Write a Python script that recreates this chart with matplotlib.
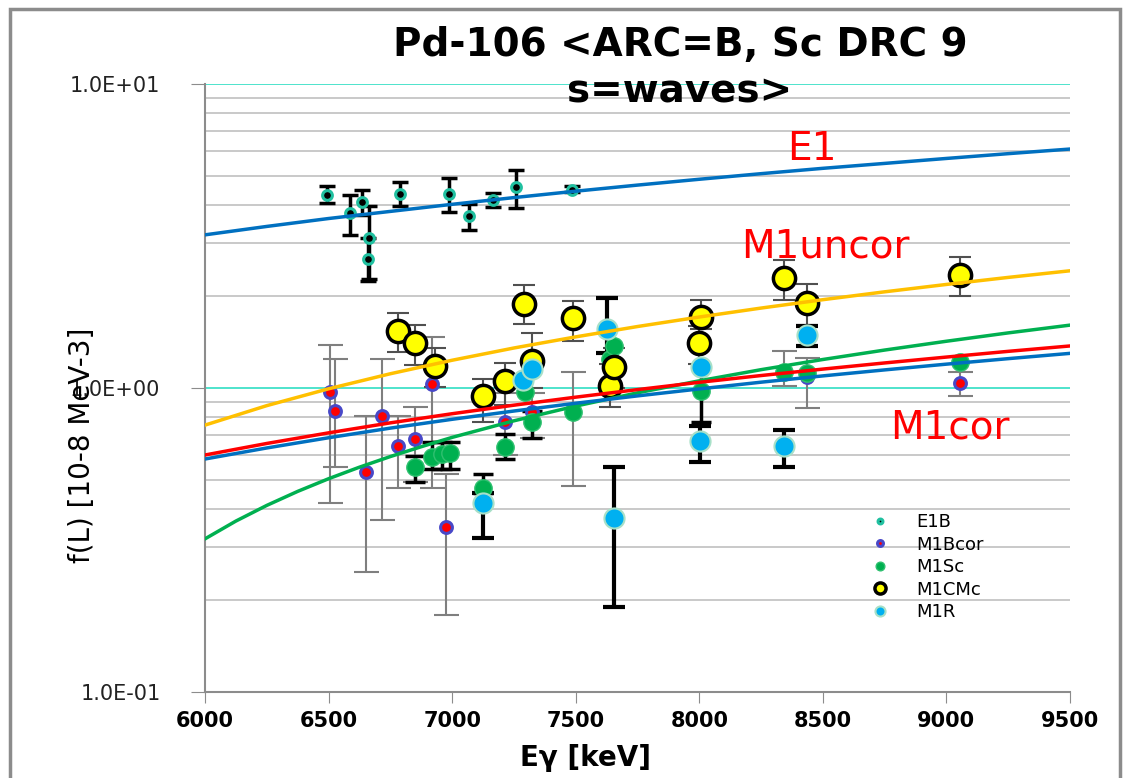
import numpy as np
import matplotlib
matplotlib.use("Agg")
import matplotlib.pyplot as plt
from matplotlib.patches import Rectangle
from matplotlib.ticker import FixedLocator, LogLocator, NullFormatter

# fitted strength functions, read every 250 keV
fit_e = [6000, 6250, 6500, 6750, 7000, 7250, 7500, 7750, 8000, 8250, 8500, 8750, 9000, 9250, 9500]
fit_e1 = [3.19, 3.40, 3.61, 3.81, 4.02, 4.23, 4.44, 4.65, 4.86, 5.07, 5.28, 5.48, 5.69, 5.90, 6.11]
fit_m1uncor = [0.755, 0.875, 0.994, 1.114, 1.234, 1.354, 1.473, 1.593, 1.712, 1.832, 1.952, 2.072,
               2.191, 2.311, 2.43]
fit_m1cor = [0.602, 0.657, 0.712, 0.768, 0.823, 0.878, 0.933, 0.988, 1.044, 1.099, 1.154, 1.209,
             1.264, 1.320, 1.375]
fit_m1blue = [0.584, 0.635, 0.686, 0.738, 0.789, 0.840, 0.891, 0.942, 0.993, 1.045, 1.096, 1.147,
              1.198, 1.249, 1.30]
# the M1Sc curve bends more at low energy, so it is read more densely there
fit_sc_e = [6000, 6125, 6250, 6375, 6500, 6625, 6750, 6875, 7000, 7250, 7500, 7750, 8000, 8250,
            8500, 8750, 9000, 9250, 9500]
fit_m1sc = [0.319, 0.365, 0.411, 0.457, 0.503, 0.549, 0.595, 0.641, 0.688, 0.780, 0.872, 0.964,
            1.056, 1.149, 1.241, 1.333, 1.425, 1.518, 1.61]

# E1B points: energy, f(L), lower and upper error limits
e1b_e = [6495, 6587, 6634, 6664, 6658, 6789, 6987, 7070, 7164, 7259, 7484]
e1b_f = [4.31, 3.76, 4.08, 3.11, 2.66, 4.35, 4.35, 3.69, 4.16, 4.59, 4.49]
e1b_lo = [4.06, 3.19, 3.70, 2.28, 2.25, 3.96, 3.78, 3.31, 3.95, 3.91, 4.40]
e1b_hi = [4.63, 4.31, 4.48, 3.98, 3.11, 4.75, 4.92, 4.03, 4.37, 5.23, 4.63]

m1bcor_e = [6506, 6526, 6652, 6715, 6782, 6850, 6917, 6975, 7214, 7322, 7491, 8341, 8434, 9053]
m1bcor_f = [0.968, 0.842, 0.528, 0.811, 0.643, 0.680, 1.03, 0.348, 0.775, 0.832, 0.84, 1.14, 1.084, 1.038]
m1bcor_lo = [0.418, 0.549, 0.249, 0.369, 0.469, 0.492, 0.469, 0.179, 0.60, 0.684, 0.477, 1.017, 0.857, 0.939]
m1bcor_hi = [1.385, 1.25, 0.807, 1.245, 0.807, 0.864, 1.468, 0.521, 0.96, 0.96, 1.131, 1.326, 1.252, 1.131]

m1sc_e = [6850, 6917, 6957, 6991, 7123, 7214, 7295, 7322, 7491, 7637, 7655, 8005, 8341, 8434, 9053]
m1sc_f = [0.549, 0.592, 0.606, 0.611, 0.468, 0.638, 0.972, 0.771, 0.836, 1.245, 1.371, 0.98, 1.126, 1.12, 1.22]
m1sc_lo = [0.492, 0.541, 0.541, 0.541, 0.45, 0.584, None, 0.684, None, None, None, 0.775, None, None, None]
m1sc_hi = [0.599, 0.663, 0.663, 0.663, 0.521, 0.706, None, 0.84, None, None, None, 1.17, None, None, None]

m1cmc_e = [6782, 6850, 6931, 7123, 7214, 7291, 7322, 7491, 7637, 7653, 8000, 8005, 8341, 8434, 9053]
m1cmc_f = [1.537, 1.406, 1.184, 0.939, 1.057, 1.889, 1.23, 1.695, 1.017, 1.17, 1.406, 1.708, 2.295, 1.904, 2.36]
m1cmc_lo = [1.31, 1.19, 1.005, 0.771, 0.879, 1.62, 1.0, 1.43, 0.864, 1.0, 1.2, 1.564, 1.951, 1.61, 2.0]
m1cmc_hi = [1.764, 1.61, 1.35, 1.07, 1.208, 2.18, 1.517, 1.933, 1.2, 1.35, 1.6, 1.951, 2.64, 2.2, 2.70]

m1r_e = [7123, 7288, 7322, 7628, 7653, 8005, 8003, 8341, 8434]
m1r_f = [0.418, 1.065, 1.155, 1.564, 0.373, 1.17, 0.671, 0.643, 1.494]
m1r_lo = [0.32, None, None, 1.3, 0.19, None, 0.572, 0.549, 1.371]
m1r_hi = [0.45, None, None, 1.972, 0.549, None, 0.75, 0.73, 1.6]

W, H = 1123, 778
fig = plt.figure(figsize=(W / 100, H / 100), dpi=100)
fig.patches.append(Rectangle((10 / W, -0.05), 1110 / W, 1.05 - 9 / H, transform=fig.transFigure,
                             fill=False, edgecolor="#8c8c8c", linewidth=2.5))
ax = fig.add_axes([205 / W, 1 - 692 / H, 865 / W, 608 / H])


def yerr(f, lo, hi):
    f = np.array(f, dtype=float)
    lo = np.array(lo, dtype=float)
    hi = np.array(hi, dtype=float)
    return [f - lo, hi - f]


def series(e, f, lo, hi, ecolor, elw, cap, label, **mk):
    ax.errorbar(e, f, yerr=yerr(f, lo, hi), fmt="none", ecolor=ecolor, elinewidth=elw,
                capsize=cap, capthick=elw, zorder=2)
    ax.plot(e, f, "o", linestyle="none", label=label, zorder=3, **mk)


series(e1b_e, e1b_f, e1b_lo, e1b_hi, "black", 2.5, 6, "E1B",
       ms=7, mfc="black", mec="#20c0a0", mew=2.2)
series(m1bcor_e, m1bcor_f, m1bcor_lo, m1bcor_hi, "#7f7f7f", 1.5, 9, "M1Bcor",
       ms=8.5, mfc="#ff0000", mec="#4848c8", mew=2.2)
series(m1sc_e, m1sc_f, m1sc_lo, m1sc_hi, "black", 2.5, 7, "M1Sc",
       ms=12.5, mfc="#00b050", mec="#30c070", mew=1)
series(m1cmc_e, m1cmc_f, m1cmc_lo, m1cmc_hi, "#505050", 1.5, 8, "M1CMc",
       ms=16, mfc="#ffff00", mec="black", mew=2.5)
series(m1r_e, m1r_f, m1r_lo, m1r_hi, "black", 3, 8, "M1R",
       ms=14.5, mfc="#00b0f0", mec="#a8e0c8", mew=1.5)

# fitted curves over the points
ax.plot(fit_e, fit_e1, color="#0070c0", lw=2.5, zorder=4)
ax.plot(fit_e, fit_m1uncor, color="#ffc000", lw=2.5, zorder=4)
ax.plot(fit_sc_e, fit_m1sc, color="#00b050", lw=2.5, zorder=4)
ax.plot(fit_e, fit_m1cor, color="#ff0000", lw=2.5, zorder=4)
ax.plot(fit_e, fit_m1blue, color="#0070c0", lw=2.5, zorder=4)

ax.set_yscale("log")
ax.set_ylim(0.1, 10)
ax.set_xlim(6000, 9500)
ax.set_xticks(np.arange(6000, 9501, 500))
ax.yaxis.set_major_locator(FixedLocator([0.1, 1, 10]))
ax.set_yticklabels(["1.0E-01", "1.0E+00", "1.0E+01"])
ax.yaxis.set_minor_locator(LogLocator(base=10, subs=np.arange(2, 10)))
ax.yaxis.set_minor_formatter(NullFormatter())
ax.grid(True, which="major", axis="y", color="#40e0c8", lw=1.3, zorder=0)
ax.grid(True, which="minor", axis="y", color="#c0c0c0", lw=1.2, zorder=0)
ax.set_axisbelow(True)
for s in ("top", "right"):
    ax.spines[s].set_visible(False)
for s in ("left", "bottom"):
    ax.spines[s].set_color("#8c8c8c")
    ax.spines[s].set_linewidth(1.5)
ax.tick_params(axis="y", which="major", length=10, color="#8c8c8c", labelsize=15, pad=22,
               labelcolor="#222222")
ax.tick_params(axis="y", which="minor", length=0)
ax.tick_params(axis="x", length=8, color="#8c8c8c", labelsize=15, pad=6)
for t in ax.get_xticklabels():
    t.set_fontweight("bold")

ax.set_xlabel("Eγ [keV]", fontsize=20, fontweight="bold")
ax.xaxis.set_label_coords(0.44, -0.085)
fig.text(82 / W, 1 - 445 / H, "f(L) [10-8 MeV-3]", rotation=90, ha="center", va="center",
         fontsize=20, family=["Liberation Sans Narrow", "DejaVu Sans"])

fig.text(680 / W, 1 - 45 / H, "Pd-106 <ARC=B, Sc DRC 9", ha="center", va="center",
         fontsize=28, fontweight="bold")
fig.text(680 / W, 1 - 90 / H, "s=waves>", ha="center", va="center",
         fontsize=28, fontweight="bold")

ax.text(8456, 6.1, "E1", color="#ff0000", fontsize=28, ha="center", va="center")
ax.text(8509, 2.91, "M1uncor", color="#ff0000", fontsize=28, ha="center", va="center")
ax.text(9015, 0.744, "M1cor", color="#ff0000", fontsize=28, ha="center", va="center")

ax.legend(loc="upper left", bbox_to_anchor=(862 / W, 1 - 504 / H), bbox_transform=fig.transFigure,
          frameon=False, fontsize=13, markerscale=0.5, labelspacing=0.25, handletextpad=1.5,
          handlelength=1.0, borderpad=0)

fig.savefig("out.png", dpi=100)
